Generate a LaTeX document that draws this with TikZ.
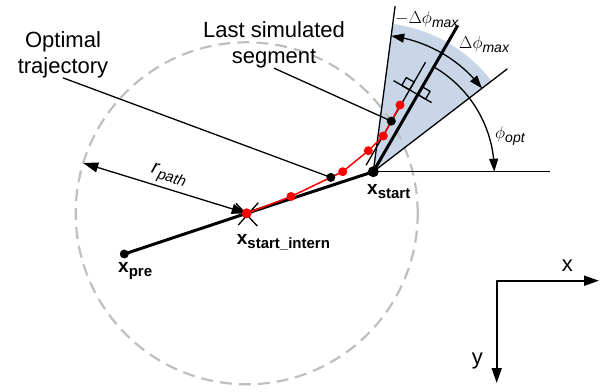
\documentclass[tikz,border=0pt]{standalone}
\usepackage{fontspec}
\setmainfont{Liberation Sans}
\usetikzlibrary{arrows.meta,calc,bending}
\definecolor{sector}{HTML}{C8D6E8}
\definecolor{traj}{HTML}{FF0000}
\definecolor{circ}{HTML}{BFBFBF}
\newcommand{\subtxt}[2][15]{\raisebox{-4pt}{\fontsize{#1}{#1}\selectfont #2}}

\begin{document}
\begin{tikzpicture}[x=1pt, y=1pt, line join=round,
    every node/.style={inner sep=0pt},
    txt/.style={font=\fontsize{22}{26}\selectfont, align=center},
    vec/.style={font=\fontsize{19}{22}\selectfont\bfseries, anchor=base west},
    ang/.style={font=\fontsize{19}{22}\selectfont, anchor=base west},
    axl/.style={font=\fontsize{22}{26}\selectfont, anchor=base west},
    fine/.style={line width=1.3pt},
    heavy/.style={line width=3pt},
    tip/.style={-{Triangle[length=13pt,width=9pt]}},
    dbl/.style={{Triangle[length=13pt,width=9pt]}-{Triangle[length=13pt,width=9pt]}},
    big dbl/.style={{Triangle[length=15pt,width=10pt]}-{Triangle[length=15pt,width=10pt]}}]
  \useasboundingbox (0,0) rectangle (612,-391);
  % points of the path
  \coordinate (xs) at (373.3,-171.7);
  \coordinate (xi) at (246.7,-213.3);
  \coordinate (xp) at (124.3,-254);
  \coordinate (r1) at (291,-196.5);
  \coordinate (r2) at (342.7,-171.7);
  \coordinate (r3) at (368.3,-150.7);
  \coordinate (r4) at (383.3,-136);
  \coordinate (r5) at (400,-105);
  \coordinate (optend) at ($(r1)!0.77!(r2)$);
  \coordinate (segend) at ($(r4)!0.48!(r5)$);
  \coordinate (rp) at ($(xi)+(162.9:171)$);
  % admissible sector and circle
  \fill[sector] (xs) -- ++(37.5:149) arc[start angle=37.5, end angle=82.5, radius=149] -- cycle;
  \draw[circ, line width=2.2pt, dash pattern=on 12pt off 7pt] (xi) circle[radius=171];
  % sector lines
  \draw[fine] (xs) -- ++(82.5:167);
  \draw[fine] (xs) -- ++(37.5:169);
  \draw[fine] (xs) -- ++(177,0);
  \draw[heavy] (xs) -- ++(60:169);
  \begin{scope}[shift={(xs)}, rotate=60]
    \draw[fine] (2,9.5) -- (121,9.5);
    \draw[fine] (89,-16) -- (89,28);
    \draw[fine] (89,9.5) rectangle (98,18.5);
    \draw[fine] (89,0) rectangle (98,-9);
  \end{scope}
  \draw[fine, dbl] ($(xs)+(82.5:137)$) arc[start angle=82.5, end angle=37.5, radius=137];
  \draw[fine, tip] ($(xs)+(60:121)$) arc[start angle=60, end angle=0, radius=121];
  % previous path and trajectory
  \draw[heavy] (xp) -- (xi) -- (xs);
  \draw[fine] (xi) ++(-10.7,10) -- ++(21.3,-22.7);
  \draw[fine] (xi) ++(11.6,10.6) -- ++(-20,-22.3);
  \draw[fine, big dbl] (rp) -- (xi) node[midway, above=3pt, sloped, font=\fontsize{20}{24}\selectfont] (rlab) {\textit{r}\subtxt{\itshape path}};
  \draw[traj, line width=1.5pt] (xi) -- (r1) -- (r2) -- (r3) -- (r4) -- (r5);
  % labels with pointers
  \node[txt] (opt) at (63,-54.4) {Optimal\\trajectory};
  \node[txt] (lss) at (274,-44.7) {Last simulated\\segment};
  \draw[fine] (opt.south) -- (optend);
  \draw[fine] (lss.south) -- (segend);
  % dots
  \foreach \p in {r1,r2,r3,r4,r5} \fill[traj] (\p) circle[radius=4.5];
  \fill[traj] (xi) circle[radius=5];
  \foreach \p in {optend,segend,xp} \fill (\p) circle[radius=4.5];
  \fill (xs) circle[radius=5.5];
  % point labels
  \node[vec] (xslab) at (367,-194) {x\subtxt{start}};
  \node[vec] (xilab) at (236.7,-244) {x\subtxt{start\_intern}};
  \node[vec] (xplab) at (118,-272) {x\subtxt{pre}};
  \node[ang] (dlab1) at (395,-23) {$-\Delta\phi$\subtxt[14]{\itshape max}};
  \node[ang] (dlab2) at (459,-48.5) {$\Delta\phi$\subtxt[14]{\itshape max}};
  \node[ang] (plab) at (495,-138) {$\phi$\subtxt[14]{\itshape opt}};
  % coordinate axes
  \coordinate (ax) at (496.7,-280.7);
  \draw[line width=1.8pt, big dbl] ($(ax)+(102.3,0)$) -- (ax) -- ++(0,-102.3);
  \node[axl] (xax) at (561.7,-271.7) {x};
  \node[axl] (yax) at (471.7,-364) {y};
\end{tikzpicture}
\end{document}
